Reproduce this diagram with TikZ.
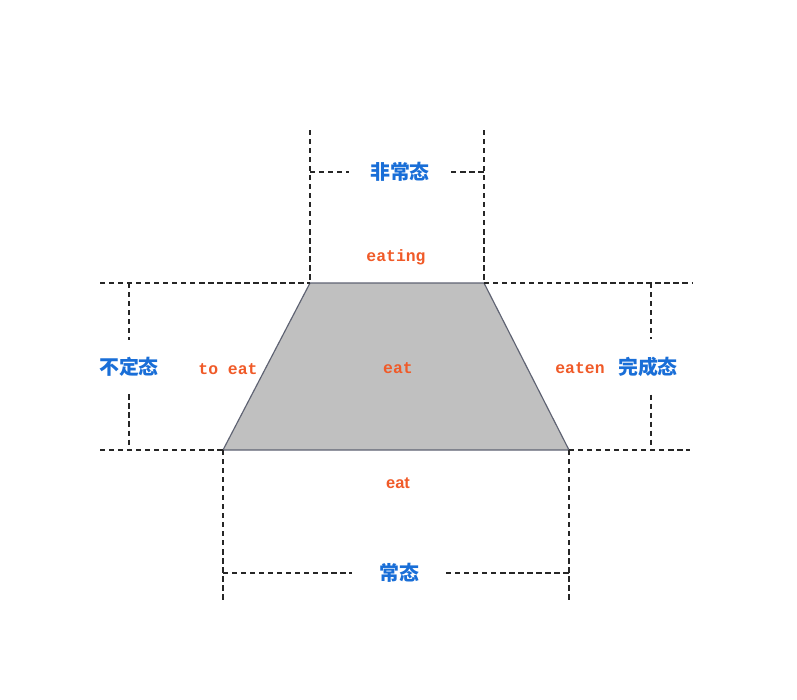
\documentclass[tikz,border=0pt]{standalone}
\usepackage{fontspec}
\newfontfamily\cjk{Noto Sans CJK SC}
\newfontfamily\wordmono{Liberation Mono}
\newfontfamily\wordsans{Liberation Sans}
\usetikzlibrary{positioning}

\definecolor{wordorange}{RGB}{240,90,40}
\definecolor{stateblue}{RGB}{25,110,215}
\definecolor{trapfill}{RGB}{192,192,192}
\definecolor{trapline}{RGB}{95,99,115}

\begin{document}
\begin{tikzpicture}[
  x=0.03cm, y=-0.03cm,
  guide/.style={dash pattern=on 4.5pt off 3.2pt, line width=1pt, black!85},
  statelabel/.style={font=\cjk\bfseries\fontsize{17}{17}\selectfont, text=stateblue},
  wordlabel/.style={font=\wordmono\bfseries\fontsize{14}{14}\selectfont, text=wordorange}
]
\useasboundingbox (0,0) rectangle (797,699);

% trapezoid corners
\coordinate (tl) at (310,283);
\coordinate (tr) at (484,283);
\coordinate (br) at (569,450);
\coordinate (bl) at (223,450);

\filldraw[fill=trapfill, draw=trapline, line width=1pt] (tl) -- (tr) -- (br) -- (bl) -- cycle;

% guide lines
\coordinate (tlup) at (310,130);
\coordinate (trup) at (484,130);
\coordinate (bldown) at (223,601);
\coordinate (brdown) at (569,601);
\coordinate (tlleft) at (100,283);
\coordinate (trright) at (692,283);
\coordinate (blleft) at (100,450);
\coordinate (brright) at (690,450);

\draw[guide] (tlup) -- (tl);
\draw[guide] (trup) -- (tr);
\draw[guide] (bl) -- (bldown);
\draw[guide] (br) -- (brdown);
\draw[guide] (tlleft) -- (tl);
\draw[guide] (tr) -- (trright);
\draw[guide] (blleft) -- (bl);
\draw[guide] (br) -- (brright);

% dimension lines with state labels
\node[statelabel, inner xsep=18pt] (feichang) at (400,172) {非常态};
\node[statelabel, inner xsep=23pt] (chang) at (399,573) {常态};
\node[statelabel, inner ysep=15pt] (buding) at (129,367) {不定态};
\node[statelabel, inner ysep=15pt] (wancheng) at (648,367) {完成态};

\coordinate (ftl) at (310,172);
\coordinate (ftr) at (484,172);
\coordinate (cbl) at (223,573);
\coordinate (cbr) at (569,573);
\coordinate (btop) at (129,283);
\coordinate (bbot) at (129,450);
\coordinate (wtop) at (651,283);
\coordinate (wbot) at (651,450);

\draw[guide] (ftl) -- (feichang);
\draw[guide] (feichang) -- (ftr);
\draw[guide] (cbl) -- (chang);
\draw[guide] (chang) -- (cbr);
\draw[guide] (btop) -- (btop |- buding.north);
\draw[guide] (bbot |- buding.south) -- (bbot);
\draw[guide] (wtop) -- (wtop |- wancheng.north);
\draw[guide] (wbot |- wancheng.south) -- (wbot);

% word forms
\node[wordlabel] (eating) at (396,257) {eating};
\node[wordlabel] (toeat) at (228,369) {to eat};
\node[wordlabel] (eatmid) at (398,368) {eat};
\node[wordlabel] (eaten) at (580,368) {eaten};
\node[wordlabel, font=\wordsans\bfseries\fontsize{14}{14}\selectfont] (eatlow) at (398,483) {eat};

\end{tikzpicture}
\end{document}
